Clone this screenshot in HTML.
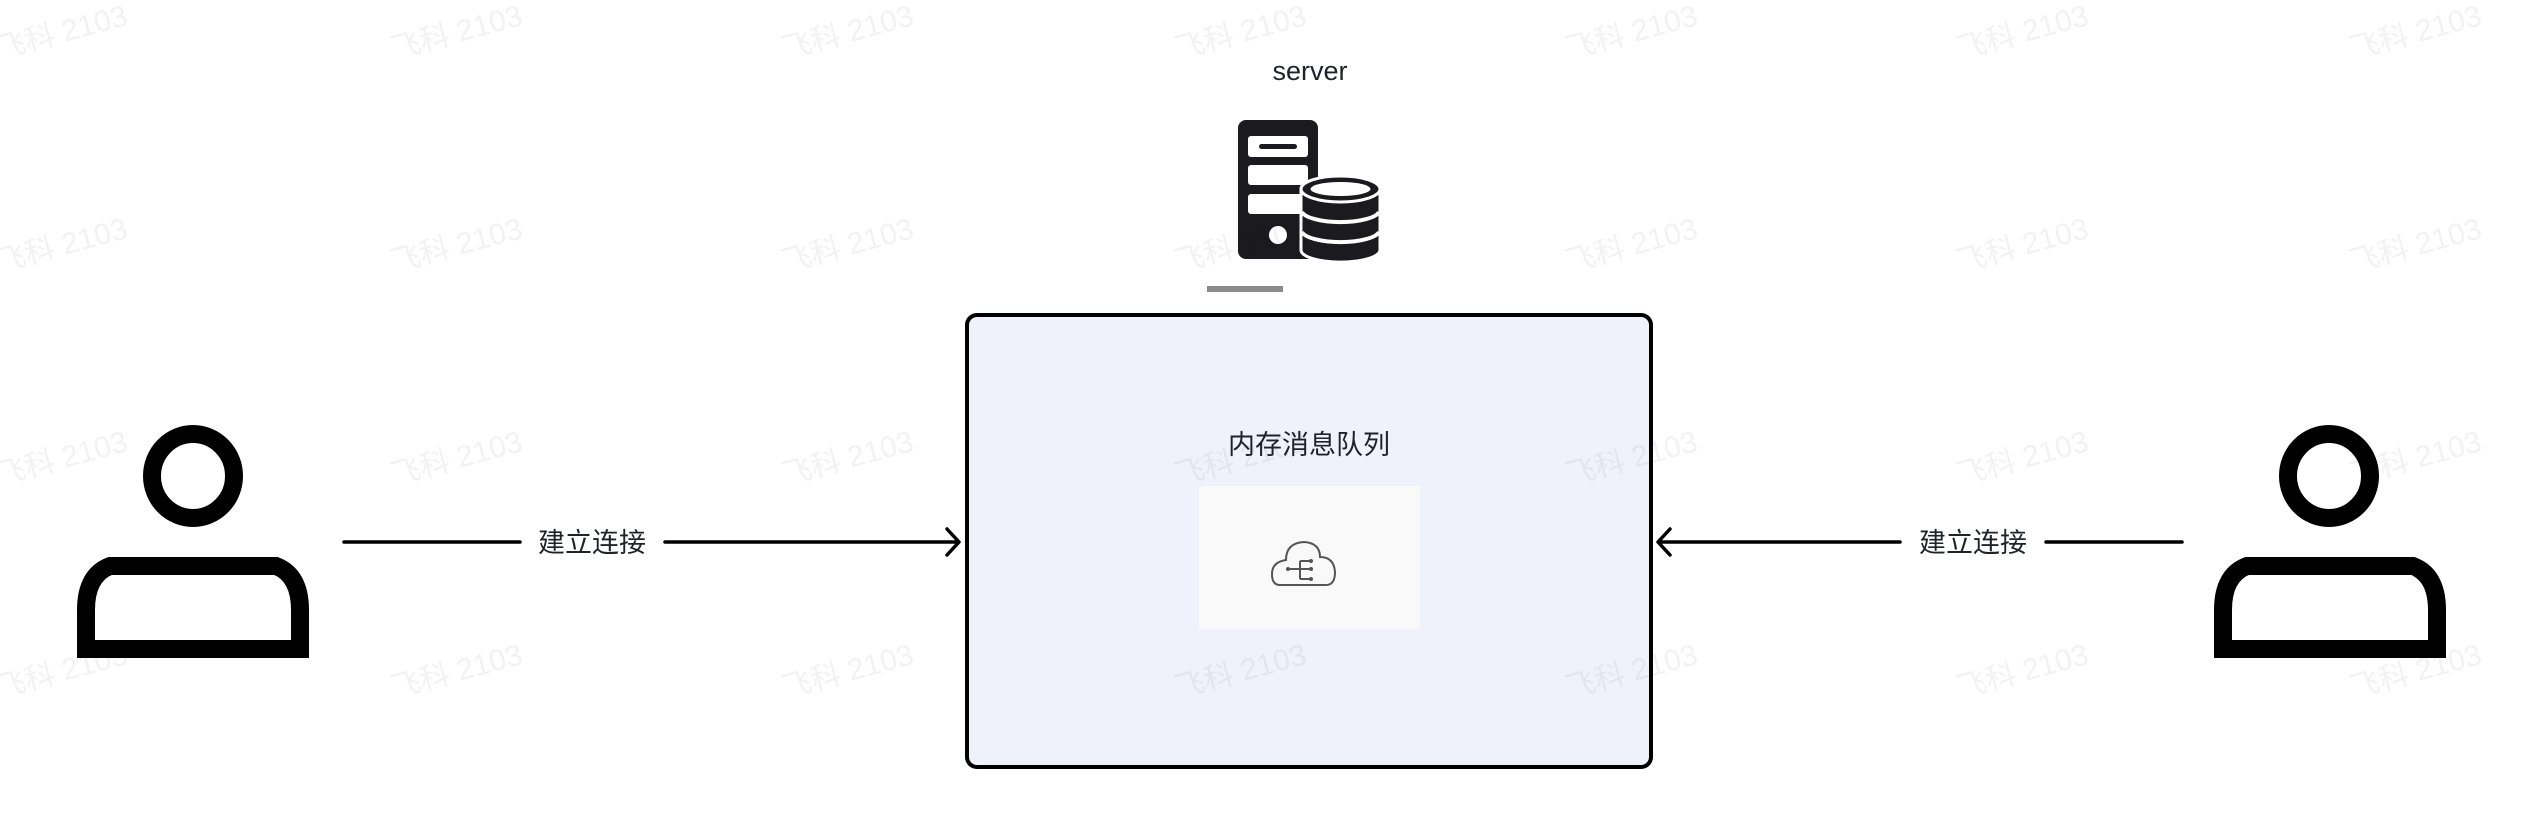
<!DOCTYPE html>
<html><head><meta charset="utf-8"><style>
html,body{margin:0;padding:0;background:#fff;}
svg{display:block;}
</style></head><body>
<svg width="2524" height="818" viewBox="0 0 2524 818" xmlns="http://www.w3.org/2000/svg" font-family="'Liberation Sans','Noto Sans CJK SC',sans-serif">
<rect width="2524" height="818" fill="#fff"/>
<!-- main box -->
<rect x="967" y="315" width="684" height="452" rx="10" fill="#eff2fb" stroke="#000" stroke-width="4"/>
<rect x="1199" y="486" width="221" height="143" fill="#f9f9f9"/>
<text x="1309" y="454" font-size="27" text-anchor="middle" fill="#1f2329">内存消息队列</text>
<!-- cloud icon -->
<g fill="none" stroke="#555" stroke-width="2">
<path d="M1280 585 Q1272 585 1272 574 Q1272 562 1286 560 Q1286 543 1304 542 Q1320 543 1320 557 Q1334 557 1335 572 Q1335 585 1326 585 Z"/>
<line x1="1289" y1="569" x2="1311" y2="569"/>
<path d="M1300 561 L1300 579 M1300 561 L1310 561 M1300 579 L1310 579"/>
</g>
<g fill="#555"><circle cx="1288" cy="569" r="2"/><circle cx="1311" cy="561" r="2"/><circle cx="1311" cy="569" r="2"/><circle cx="1311" cy="579" r="2"/></g>
<!-- server -->
<text x="1310" y="80" font-size="27" text-anchor="middle" fill="#1f2329">server</text>
<rect x="1238" y="120" width="80" height="139" rx="8" fill="#1b1b1f"/>
<rect x="1248" y="136" width="60" height="21" rx="3" fill="#fff"/>
<rect x="1259" y="144" width="38" height="5" rx="2.5" fill="#1b1b1f"/>
<rect x="1248" y="165" width="60" height="20" rx="3" fill="#fff"/>
<rect x="1248" y="194" width="60" height="20" rx="3" fill="#fff"/>
<circle cx="1278" cy="235" r="9" fill="#fff"/>
<g>
<path d="M1301 189 L1301 250 A39 12 0 0 0 1380 250 L1380 189 Z" fill="#1b1b1f" stroke="#fff" stroke-width="3"/>
<ellipse cx="1340.5" cy="189" rx="39.5" ry="13" fill="#1b1b1f" stroke="#fff" stroke-width="3"/>
<ellipse cx="1340.5" cy="189" rx="30" ry="7" fill="#fff"/>
<path d="M1302 212 A39 12 0 0 0 1379 212 M1302 232 A39 12 0 0 0 1379 232" fill="none" stroke="#fff" stroke-width="4"/>
</g>
<rect x="1207" y="286" width="76" height="6" fill="#8a8a8a"/>
<!-- persons -->
<g>
<ellipse cx="193" cy="476" rx="41" ry="42" fill="none" stroke="#000" stroke-width="18"/>
<path d="M86 649 L86 610 Q86 575 110 566 L276 566 Q300 575 300 610 L300 649 Z" fill="none" stroke="#000" stroke-width="18"/>
</g>
<g>
<ellipse cx="2329" cy="476" rx="41" ry="42" fill="none" stroke="#000" stroke-width="18"/>
<path d="M2223 649 L2223 610 Q2223 575 2247 566 L2413 566 Q2437 575 2437 610 L2437 649 Z" fill="none" stroke="#000" stroke-width="18"/>
</g>
<!-- arrows -->
<g stroke="#000" stroke-width="3.5" fill="none" stroke-linecap="round" stroke-linejoin="round">
<line x1="344" y1="542" x2="520" y2="542"/>
<line x1="665" y1="542" x2="957" y2="542"/>
<path d="M947 529 L959 542 L947 555"/>
<line x1="1660" y1="542" x2="1900" y2="542"/>
<line x1="2046" y1="542" x2="2182" y2="542"/>
<path d="M1670 529 L1658 542 L1670 555"/>
</g>
<text x="592" y="552" font-size="27" text-anchor="middle" fill="#1f2329">建立连接</text>
<text x="1973" y="552" font-size="27" text-anchor="middle" fill="#1f2329">建立连接</text>
<!-- watermarks -->
<g fill="#000" fill-opacity="0.05" font-size="30">
<g id="wr">
<text transform="translate(64,42) rotate(-15)" text-anchor="middle">飞科 2103</text>
<text transform="translate(459,42) rotate(-15)" text-anchor="middle">飞科 2103</text>
<text transform="translate(850,42) rotate(-15)" text-anchor="middle">飞科 2103</text>
<text transform="translate(1243,42) rotate(-15)" text-anchor="middle">飞科 2103</text>
<text transform="translate(1634,42) rotate(-15)" text-anchor="middle">飞科 2103</text>
<text transform="translate(2025,42) rotate(-15)" text-anchor="middle">飞科 2103</text>
<text transform="translate(2418,42) rotate(-15)" text-anchor="middle">飞科 2103</text>
</g>
<use href="#wr" y="213"/>
<use href="#wr" y="426"/>
<use href="#wr" y="639"/>
</g>
</svg>
</body></html>
